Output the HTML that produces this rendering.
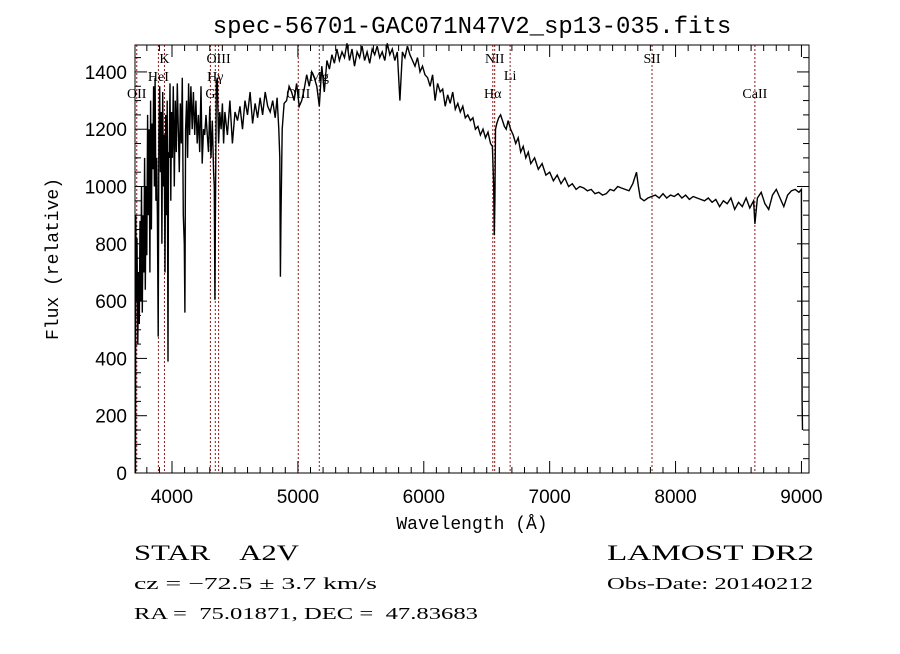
<!DOCTYPE html>
<html><head><meta charset="utf-8"><style>
body{margin:0;background:#fff;}
svg text{font-family:"Liberation Sans",sans-serif;white-space:pre;}
.ser{font-family:"Liberation Serif",serif !important;}
.mono{font-family:"Liberation Mono",monospace !important;}
</style></head><body>
<svg id="chart" width="900" height="649" viewBox="0 0 900 649" xmlns="http://www.w3.org/2000/svg">
<rect width="900" height="649" fill="#fff"/>
<text x="472" y="33" text-anchor="middle" class="mono" font-size="24">spec-56701-GAC071N47V2_sp13-035.fits</text>
<g id="lines"></g>
<g id="spec"></g>
<g id="axes"></g>
<text x="472" y="529" text-anchor="middle" class="mono" font-size="18">Wavelength (Å)</text>
<text transform="translate(58,259) rotate(-90)" text-anchor="middle" class="mono" font-size="18">Flux (relative)</text>
<text x="134" y="560" class="ser" font-size="22" textLength="165" lengthAdjust="spacingAndGlyphs">STAR    A2V</text>
<text x="134" y="589" class="ser" font-size="17" textLength="243" lengthAdjust="spacingAndGlyphs">cz = −72.5 ± 3.7 km/s</text>
<text x="134" y="619" class="ser" font-size="17" textLength="344" lengthAdjust="spacingAndGlyphs">RA =  75.01871, DEC =  47.83683</text>
<text x="607" y="560" class="ser" font-size="22" textLength="207" lengthAdjust="spacingAndGlyphs">LAMOST DR2</text>
<text x="607" y="589" class="ser" font-size="17" textLength="206" lengthAdjust="spacingAndGlyphs">Obs-Date: 20140212</text>
</svg>
<script>
const wave=[
3710,3712,3716,3722,3728,3734,3740,3746,3752,3758,
3764,3770,3776,3782,3788,3794,3800,3806,3812,3818,
3824,3830,3836,3842,3848,3854,3860,3866,3872,3878,
3884,3890,3896,3902,3908,3914,3920,3926,3932,3938,
3944,3950,3956,3962,3968,3972,3978,3984,3990,3996,
4002,4010,4018,4026,4034,4042,4050,4058,4066,4074,
4082,4090,4098,4102,4108,4116,4124,4132,4140,4150,
4160,4170,4180,4190,4200,4210,4220,4230,4240,4250,
4260,4270,4280,4290,4300,4310,4320,4330,4336,4341,
4346,4352,4360,4370,4380,4390,4400,4410,4420,4430,
4440,4460,4480,4500,4520,4540,4560,4580,4600,4620,
4640,4660,4680,4700,4720,4740,4760,4780,4800,4820,
4835,4848,4856,4861,4866,4875,4890,4910,4930,4950,
4970,4990,5010,5030,5050,5070,5090,5110,5130,5150,
5170,5190,5210,5230,5250,5270,5290,5310,5330,5350,
5370,5390,5410,5430,5450,5470,5490,5510,5530,5550,
5570,5590,5610,5630,5650,5670,5690,5710,5730,5750,
5770,5790,5810,5830,5850,5870,5890,5910,5930,5950,
5970,5990,6010,6030,6050,6070,6090,6110,6130,6150,
6170,6190,6210,6230,6250,6270,6290,6310,6330,6350,
6370,6390,6410,6430,6450,6470,6490,6510,6530,6545,
6555,6560,6565,6570,6580,6595,6610,6625,6640,6655,
6670,6690,6710,6730,6750,6770,6790,6810,6830,6850,
6880,6910,6940,6970,7000,7030,7060,7090,7120,7150,
7180,7210,7240,7270,7300,7330,7360,7390,7420,7450,
7480,7510,7540,7570,7600,7630,7660,7690,7705,7720,
7750,7780,7810,7840,7870,7900,7930,7960,7990,8020,
8050,8080,8110,8140,8170,8200,8230,8260,8290,8320,
8350,8380,8410,8440,8470,8500,8530,8560,8590,8620,
8630,8650,8680,8710,8740,8770,8800,8830,8860,8890,
8920,8950,8980,9000,9005,9008];
const flux=[
0,900,600,820,450,700,520,880,600,1000,
560,900,700,1100,640,1000,760,1250,900,1200,
700,1300,850,1220,1060,1350,1000,1380,950,1100,
900,476,1180,1350,1050,1260,800,1330,1000,1180,
700,1250,900,1300,389,1120,1100,1360,950,1260,
1100,1350,1000,1300,1120,1360,1200,1050,1290,1150,
1380,900,800,560,1200,1300,1100,1360,1180,1350,
1200,1330,1180,1300,1150,1250,1120,1350,1080,1200,
1180,1250,1180,1120,1280,1100,1230,1050,1000,605,
1000,1360,1380,1150,1260,1200,1290,1150,1260,1220,
1180,1300,1150,1260,1230,1280,1200,1300,1250,1330,
1220,1290,1240,1310,1250,1330,1280,1260,1300,1240,
1310,1200,1100,685,900,1200,1290,1300,1350,1330,
1300,1360,1280,1300,1340,1390,1350,1400,1380,1350,
1280,1420,1330,1440,1410,1460,1430,1480,1440,1470,
1450,1500,1440,1480,1420,1470,1450,1490,1440,1470,
1430,1480,1460,1490,1450,1470,1440,1500,1460,1480,
1440,1470,1300,1470,1450,1490,1460,1440,1420,1450,
1400,1420,1390,1380,1350,1390,1300,1360,1330,1340,
1280,1320,1290,1330,1270,1290,1260,1280,1240,1250,
1230,1240,1200,1210,1180,1200,1170,1190,1150,1140,
1000,830,950,1200,1220,1240,1250,1230,1210,1200,
1230,1200,1180,1150,1170,1120,1140,1100,1120,1080,
1100,1060,1080,1040,1050,1020,1040,1010,1030,1000,
1010,990,1000,995,985,990,975,980,970,975,
990,985,1000,995,990,985,1010,1050,1000,960,
950,960,965,970,960,975,960,970,965,975,
960,970,955,965,960,955,950,960,945,955,
930,950,940,960,920,945,930,960,925,950,
870,960,980,940,920,970,990,960,930,970,
985,990,980,990,250,150];
const XMIN=3706,XMAX=9060,YMIN=0,YMAX=1494;
const L=135,R=809,T=45,B=473;
const xS=w=>L+(w-XMIN)/(XMAX-XMIN)*(R-L);
const yS=f=>B-(f-YMIN)/(YMAX-YMIN)*(B-T);
const xTicks=[4000,5000,6000,7000,8000,9000];
const yTicks=[0,200,400,600,800,1000,1200,1400];
const lineNames=["OII","HeI","K","G","Hγ","OIII","OIII","Mg","Hα","NII","Li","SII","CaII"];
const lineWaves=[3720,3892,3940,4305,4344,4370,5003,5170,6548,6563,6686,7813,8630];
const lineLabelY=[93,76,58,93,76,58,93,76,93,58,75,58,93];
const NS="http://www.w3.org/2000/svg";
function mk(tag,attrs,parent){const e=document.createElementNS(NS,tag);for(const k in attrs)e.setAttribute(k,attrs[k]);parent.appendChild(e);return e;}
const lg=document.getElementById('lines');
lineWaves.forEach((w,i)=>{
  const x=xS(w);
  const l=mk('line',{x1:x,x2:x,y1:T,y2:B,stroke:'#8b1a1a','stroke-width':1,'stroke-dasharray':'2,2'},lg);
  
  
  const t=mk('text',{x:x,y:lineLabelY[i]+5,'text-anchor':'middle','font-size':14,class:'ser'},lg);
  t.textContent=lineNames[i];
  
  
});
const sg=document.getElementById('spec');
let d='';wave.forEach((w,i)=>{d+=(i?'L':'M')+xS(w).toFixed(1)+','+yS(flux[i]).toFixed(1);});
const p=mk('path',{d:d,fill:'none',stroke:'#000','stroke-width':1.4,'stroke-linejoin':'miter'},sg);


const ag=document.getElementById('axes');
const fr=mk('rect',{x:L,y:T,width:R-L,height:B-T,fill:'none',stroke:'#000','stroke-width':1},ag);


for(let w=3800;w<=9000;w+=100){const x=xS(w);const big=w%1000===0;const h=big?12:6;
  mk('line',{x1:x,x2:x,y1:B,y2:B-h,stroke:'#000'},ag);mk('line',{x1:x,x2:x,y1:T,y2:T+h,stroke:'#000'},ag);}
for(let f=0;f<=1450;f+=50){const y=yS(f);const big=f%200===0;const h=big?12:6;
  mk('line',{x1:L,x2:L+h,y1:y,y2:y,stroke:'#000'},ag);mk('line',{x1:R,x2:R-h,y1:y,y2:y,stroke:'#000'},ag);}
xTicks.forEach(v=>{const t=mk('text',{x:xS(v),y:B+30,'text-anchor':'middle','font-size':19},ag);t.textContent=v;
  
  });
yTicks.forEach(v=>{const t=mk('text',{x:L-8,y:yS(v)+7,'text-anchor':'end','font-size':19},ag);t.textContent=v;
  
  });
</script>
</body></html>
